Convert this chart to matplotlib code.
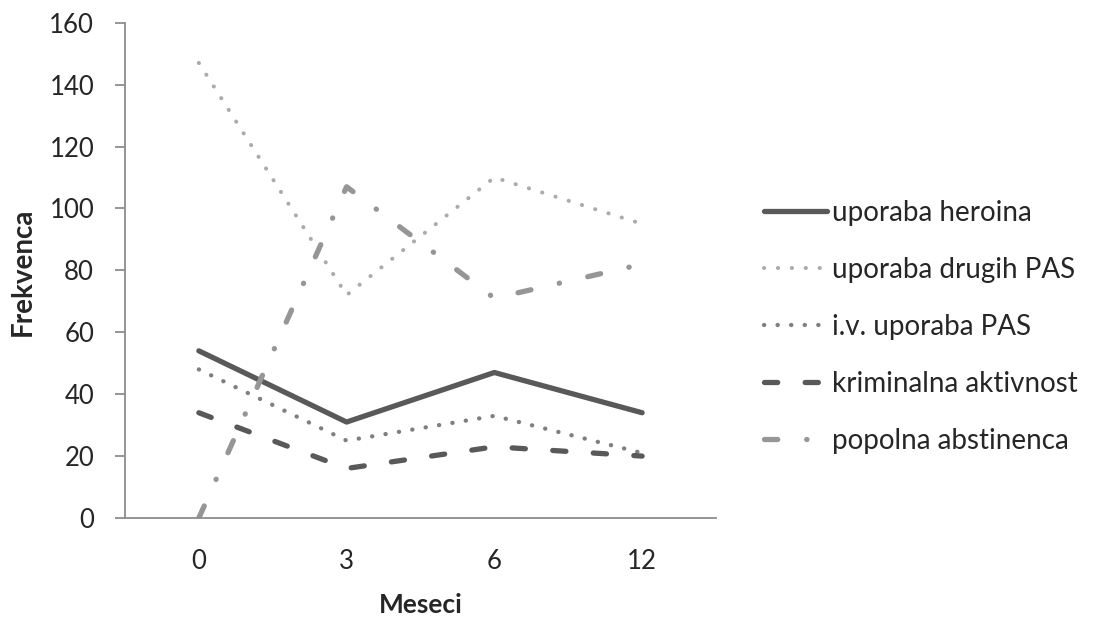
import matplotlib.pyplot as plt

plt.rcParams['font.family'] = ['Lato', 'DejaVu Sans']

months = ['0', '3', '6', '12']
series_names = ['uporaba heroina', 'uporaba drugih PAS', 'i.v. uporaba PAS',
                'kriminalna aktivnost', 'popolna abstinenca']
heroina = [54, 31, 47, 34]
drugi_pas = [147, 72, 110, 95]
iv_pas = [48, 25, 33, 21]
kriminal = [34, 16, 23, 20]
abstinenca = [0, 107, 71, 82]
y_ticks = [0, 20, 40, 60, 80, 100, 120, 140, 160]

fig = plt.figure(figsize=(10.99, 6.18), dpi=100)
ax = fig.add_axes([0.1137, 0.1618, 0.5378, 0.8015])

x = list(range(len(months)))
styles = [
    dict(color='#595959', lw=3.8, ls='-', solid_capstyle='round'),
    dict(color='#ababab', lw=2.9, ls=(0, (0.05, 3.4)), dash_capstyle='round'),
    dict(color='#7f7f7f', lw=3.1, ls=(0, (0.05, 3.1)), dash_capstyle='round'),
    dict(color='#595959', lw=3.8, ls=(0, (2.5, 5.2)), dash_capstyle='round'),
    dict(color='#969696', lw=3.8, ls=(0, (2.5, 5.5, 0.05, 5.5)), dash_capstyle='round'),
]
data = [heroina, drugi_pas, iv_pas, kriminal, abstinenca]
handles = []
for vals, name, st in zip(data, series_names, styles):
    h, = ax.plot(x, vals, label=name, **st)
    handles.append(h)

ax.set_xlim(-0.5, 3.5)
ax.set_ylim(0, 160)
ax.set_yticks(y_ticks)
ax.set_xticks(x)
ax.set_xticklabels(months)

for s in ['top', 'right']:
    ax.spines[s].set_visible(False)
for s in ['left', 'bottom']:
    ax.spines[s].set_color('#8c8c8c')
    ax.spines[s].set_linewidth(1.3)
ax.tick_params(axis='y', length=7.2, width=1.3, color='#8c8c8c', labelsize=18.5,
               labelcolor='#262626', pad=15)
ax.tick_params(axis='x', length=0, labelsize=18.5, labelcolor='#262626', pad=22)

ax.set_ylabel('Frekvenca', fontsize=20, fontweight='bold', color='#262626')
ax.yaxis.label.set_va('center')
ax.yaxis.set_label_coords((23 - 125) / 591, (518 - 272) / 495.3)
ax.set_xlabel('Meseci', fontsize=19, fontweight='bold', color='#262626', labelpad=14)

fig.legend(handles=handles, labels=series_names, loc='center left',
           bbox_to_anchor=(0.672, 0.4709), frameon=False, fontsize=20,
           handlelength=2.3, handletextpad=0.15, labelspacing=1.12,
           labelcolor='#262626')

fig.savefig('out.png', dpi=100)
